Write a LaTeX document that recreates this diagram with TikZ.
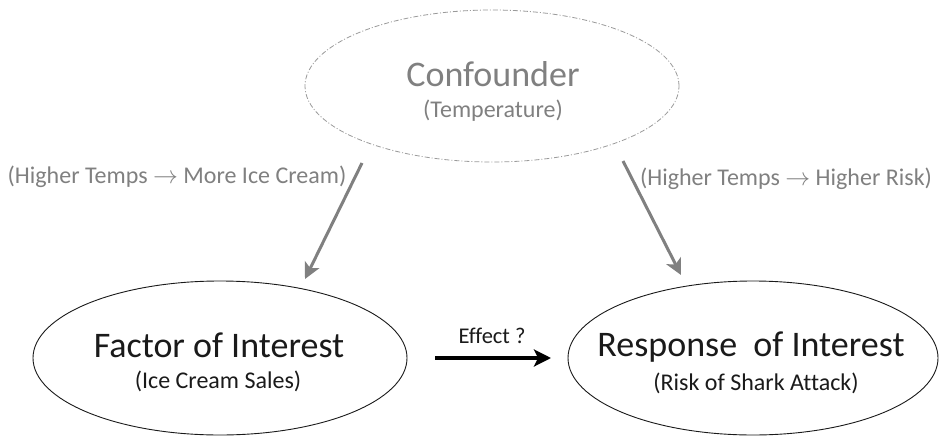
\documentclass[tikz,border=0pt]{standalone}
\usepackage{fontspec}
\setmainfont[Ligatures={NoCommon}]{Carlito}
\usetikzlibrary{shapes.geometric,arrows.meta}
\definecolor{softgray}{HTML}{808080}
\definecolor{rimgray}{HTML}{9A9A9A}
\definecolor{inkdark}{HTML}{1A1A1A}
\begin{document}
\begin{tikzpicture}[x=1pt,y=-1pt,
  oval/.style={ellipse,inner sep=0pt,line width=0.9pt},
  title/.style={anchor=base,inner sep=0pt,font=\fontsize{36}{40}\selectfont},
  subtitle/.style={anchor=base,inner sep=0pt,font=\fontsize{24}{28}\selectfont},
  causal/.style={line width=3pt,softgray,-{Stealth[length=16pt,width=16pt,inset=4pt]}},
  effect/.style={line width=3.2pt,black,-{Stealth[length=17pt,width=17pt,inset=4pt]}}]
  \useasboundingbox[fill=white] (0,0) rectangle (939,436);

  % the three variables
  \node[oval,draw=rimgray,line width=0.8pt,dash pattern=on 5pt off 2pt on 1pt off 2pt,
        minimum width=374pt,minimum height=152pt] (conf) at (492,86) {};
  \node[oval,draw=inkdark,minimum width=374pt,minimum height=154pt] (factor) at (220,358) {};
  \node[oval,draw=inkdark,minimum width=370pt,minimum height=154pt] (response) at (753,358) {};

  % texts inside the ovals
  \node[title,text=softgray] (conftitle) at (493,86) {Confounder};
  \node[subtitle,text=softgray] (confsub) at (493,117) {(Temperature)};
  \node[title,text=inkdark] (factortitle) at (219,357) {Factor of Interest};
  \node[subtitle,text=inkdark] (factorsub) at (218,388) {(Ice Cream Sales)};
  \node[title,text=inkdark] (responsetitle) at (751,356) {Response~ of Interest};
  \node[subtitle,text=inkdark] (responsesub) at (756,390) {(Risk of Shark Attack)};

  % connector ends
  \coordinate (leftstart) at (362,163);
  \coordinate (lefttip) at (305,279);
  \coordinate (rightstart) at (623,161);
  \coordinate (righttip) at (681,275);
  \coordinate (effectstart) at (435,358);
  \coordinate (effecttip) at (551,358);

  % confounding paths
  \draw[causal] (leftstart) -- (lefttip);
  \draw[causal] (rightstart) -- (righttip);
  \node[subtitle,text=softgray] (leftlabel) at (177,183) {(Higher Temps $\rightarrow$ More Ice Cream)};
  \node[subtitle,text=softgray] (rightlabel) at (786,185) {(Higher Temps $\rightarrow$ Higher Risk)};

  % the effect in question
  \draw[effect] (effectstart) -- (effecttip);
  \node[anchor=base,inner sep=0pt,font=\fontsize{22.5}{26}\selectfont,text=inkdark] (effectlabel) at (492,343) {Effect ?};
\end{tikzpicture}
\end{document}
